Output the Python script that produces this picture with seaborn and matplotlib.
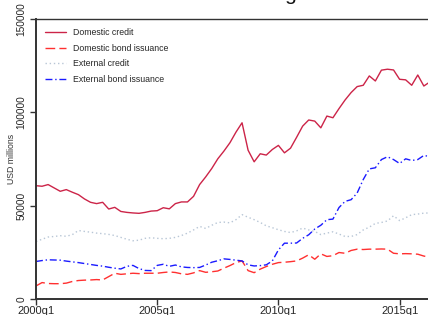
import numpy as np
import pandas as pd
import matplotlib
matplotlib.use('Agg')
import matplotlib.pyplot as plt
import seaborn as sns

# Quarterly series, 2000q1 onwards (USD millions)
domestic_credit = [60700, 60400, 61300, 59500, 57700, 58600, 57200, 55900, 53600, 51800,
                   51100, 51800, 48200, 49100, 46900, 46400, 46100, 45900, 46400, 47100,
                   47300, 48900, 48300, 51100, 52000, 52000, 55000, 61300, 65400, 69900,
                   75100, 79200, 83700, 89400, 94400, 79700, 73500, 77800, 77100, 80100,
                   82300, 78300, 80800, 86600, 92600, 95900, 95300, 91700, 98000, 97100,
                   102000, 106600, 110600, 113800, 114500, 119500, 116800, 122600, 123100, 122700,
                   117700, 117400, 114500, 120000, 114100, 116300]
domestic_bonds = [7000, 8800, 8300, 8200, 8200, 8500, 9400, 9900, 10100, 10200,
                  10400, 10200, 12000, 13800, 13200, 13500, 13800, 13600, 13800, 13800,
                  13800, 14200, 14500, 14200, 13500, 13200, 14000, 15200, 14300, 14600,
                  15000, 16500, 17900, 19500, 20400, 15200, 14100, 16000, 17400, 18600,
                  19500, 19700, 20000, 20400, 21900, 23700, 21300, 24200, 22800, 23200,
                  24900, 24500, 26000, 26700, 26500, 26700, 26700, 26800, 26700, 24500,
                  24200, 24300, 24200, 24000, 23000, 22400]
external_credit = [30800, 32000, 33200, 33500, 33900, 33600, 34500, 36700, 36200, 35800,
                   35300, 35000, 34600, 34000, 33000, 32000, 31200, 31500, 32500, 32800,
                   32500, 32300, 32500, 33000, 34000, 35300, 37000, 38900, 37800, 39500,
                   41000, 41200, 40800, 42500, 45200, 43800, 42500, 41000, 39200, 38200,
                   37100, 36200, 35600, 36500, 38000, 37000, 36200, 34500, 35300, 36000,
                   34800, 33500, 33500, 34500, 37000, 38500, 40500, 41000, 41800, 44600,
                   42000, 43500, 45200, 45500, 46000, 46100]
external_bonds = [20100, 20600, 21000, 20900, 20800, 20300, 19900, 19500, 19000, 18500,
                  18000, 17600, 17000, 16500, 16100, 17500, 18000, 16300, 15300, 15200,
                  18000, 18600, 17500, 18200, 17200, 16900, 16800, 16900, 18200, 19700,
                  20500, 21500, 21200, 20800, 20400, 18300, 17700, 17900, 18300, 20400,
                  26300, 29900, 29900, 30000, 32500, 34400, 37500, 39500, 42500, 42800,
                  49000, 52300, 53200, 56800, 64000, 69700, 70300, 74700, 76200, 74700,
                  72600, 75100, 74200, 74700, 76900, 76300]

tick_pos = [0, 20, 40, 60]
tick_labels = ['2000q1', '2005q1', '2010q1', '2015q1']
y_ticks = [0, 50000, 100000, 150000]

quarters = np.arange(len(domestic_credit))

sns.set_style('white')
plt.rcParams['font.family'] = ['Liberation Sans', 'DejaVu Sans']

fig = plt.figure(figsize=(4.28, 3.15), dpi=100)
ax = fig.add_axes([36 / 428, 16 / 315, 392 / 428, 280 / 315])

sns.lineplot(x=quarters, y=domestic_credit, ax=ax, color='#cc2448', lw=1.0,
             label='Domestic credit')
sns.lineplot(x=quarters, y=domestic_bonds, ax=ax, color='#ff3030', lw=1.0,
             dashes=False, label='Domestic bond issuance').lines[-1].set_dashes([7, 3])
sns.lineplot(x=quarters, y=external_credit, ax=ax, color='#b8c6d6', lw=1.0,
             label='External credit').lines[-1].set_dashes([1, 2])
sns.lineplot(x=quarters, y=external_bonds, ax=ax, color='#1a1aff', lw=1.0,
             label='External bond issuance').lines[-1].set_dashes([5, 2, 1, 2])

ax.set_xlim(0, 392 / 6.06)
ax.set_ylim(0, 150000)
ax.set_xticks(tick_pos)
ax.set_xticklabels(tick_labels, fontsize=8)
ax.set_yticks(y_ticks)
ax.set_yticklabels([str(v) for v in y_ticks], fontsize=7.3, rotation=90, va='center')
ax.tick_params(axis='both', direction='out', length=4, width=1, color='#333333',
               bottom=True, left=True)
ax.tick_params(axis='y', pad=3)
ax.tick_params(axis='x', pad=1)
ax.set_xlabel('')
ax.set_ylabel('USD millions', fontsize=6.3, color='#333333', labelpad=0)

ax.spines['right'].set_visible(False)
for s in ['left', 'bottom']:
    ax.spines[s].set_linewidth(1.4)
    ax.spines[s].set_color('#333333')
ax.spines['top'].set_linewidth(1.0)
ax.spines['top'].set_color('#333333')

ax.legend(loc='upper left', bbox_to_anchor=(45 / 428, 1 - 28 / 315),
          bbox_transform=fig.transFigure, frameon=False, fontsize=6.3,
          handlelength=2.4, handletextpad=0.8, labelspacing=0.75,
          borderpad=0, borderaxespad=0)

# title sits mostly above the visible area, as in the reference crop
fig.text(230 / 428, 1 - 0.5 / 315, 'Debt financing', ha='center', va='baseline',
         fontsize=15, color='#111111')

fig.savefig('out.png', dpi=100)
